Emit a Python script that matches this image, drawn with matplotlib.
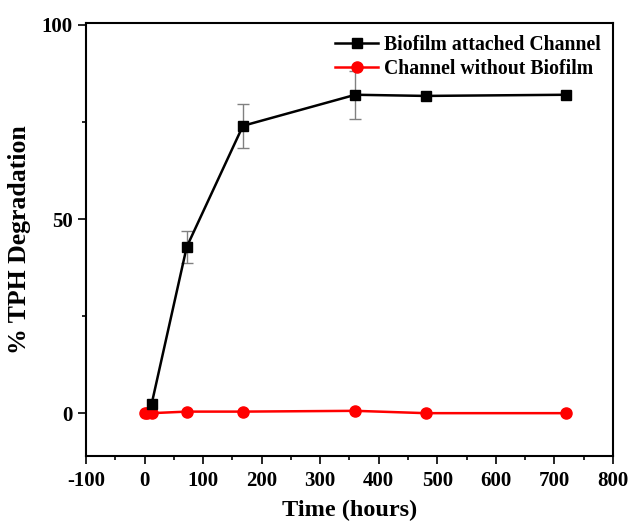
import numpy as np
import matplotlib.pyplot as plt
from matplotlib.ticker import MultipleLocator

# Data
t_bio = [12, 72, 168, 360, 480, 720]
tph_bio = [2.3, 42.8, 74.0, 82.0, 81.7, 82.0]

# error bars (only where visible)
t_err = [72, 168, 360]
tph_err = [42.8, 74.0, 82.0]
err_bio = [4.0, 5.7, 6.2]

t_ctrl = [0, 5, 12, 72, 168, 360, 480, 720]
tph_ctrl = [0.0, 0.0, 0.0, 0.4, 0.4, 0.6, 0.0, 0.0]

plt.rcParams['font.family'] = ['Liberation Serif', 'DejaVu Serif']
plt.rcParams['font.weight'] = 'bold'
plt.rcParams['axes.unicode_minus'] = False

fig = plt.figure(figsize=(6.3, 5.21), dpi=100)
ax = fig.add_axes([0.1365, 0.125, 0.8365, 0.831])

ax.errorbar(t_err, tph_err, yerr=err_bio, fmt='none', ecolor='gray',
            elinewidth=1, capsize=4, capthick=1, zorder=2)
ax.plot(t_bio, tph_bio, color='black', marker='s', markersize=7, linewidth=1.8,
        label='Biofilm attached Channel', zorder=3)
ax.plot(t_ctrl, tph_ctrl, color='red', marker='o', markersize=8, linewidth=1.8,
        label='Channel without Biofilm', zorder=2)

ax.set_xlim(-100, 800)
ax.set_ylim(-11, 100.5)
ax.xaxis.set_major_locator(MultipleLocator(100))
ax.xaxis.set_minor_locator(MultipleLocator(50))
ax.yaxis.set_major_locator(MultipleLocator(50))
ax.yaxis.set_minor_locator(MultipleLocator(25))
ax.tick_params(which='both', direction='out', top=False, right=False, width=1.2)
ax.tick_params(which='major', length=6, labelsize=15)
ax.tick_params(axis='x', which='major', pad=5)
ax.tick_params(which='minor', length=3)
for lbl in ax.get_xticklabels() + ax.get_yticklabels():
    lbl.set_fontweight('bold')
for s in ax.spines.values():
    s.set_linewidth(1.5)

ax.set_xlabel('Time (hours)', fontsize=17.5, fontweight='bold', labelpad=6)
ax.set_ylabel('% TPH Degradation', fontsize=18.5, fontweight='bold', labelpad=8)

leg = ax.legend(loc='upper right', frameon=False, fontsize=14.2, handlelength=2.2,
                handletextpad=0.3, borderaxespad=0.2, labelspacing=0.2)
for txt in leg.get_texts():
    txt.set_fontweight('bold')

fig.savefig('out.png', dpi=100)
